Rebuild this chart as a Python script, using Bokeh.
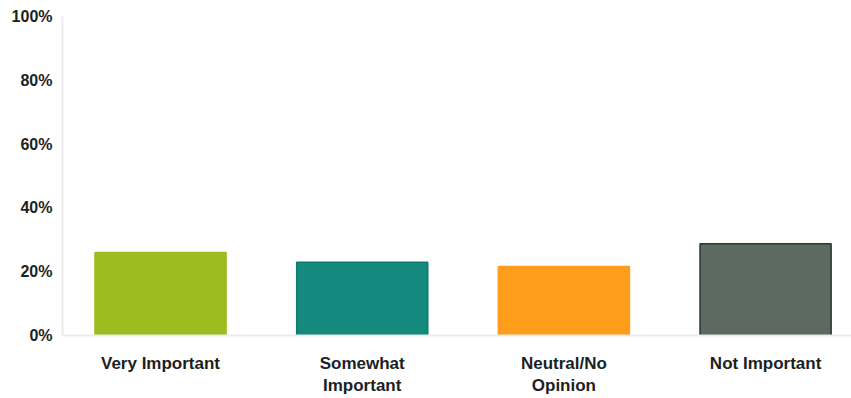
from bokeh.plotting import figure
from bokeh.models import ColumnDataSource, FixedTicker, Range1d
from bokeh.embed import file_html
from bokeh.resources import INLINE

categories = ["Very Important", "Somewhat\nImportant", "Neutral/No\nOpinion", "Not Important"]
values = [26.0, 23.0, 21.6, 28.8]
colors = ["#9cbc1f", "#138a7d", "#ff9d1c", "#5d6a62"]
line_colors = ["#9cbc1f", "#0f7a6e", "#ff9d1c", "#2c3630"]
y_ticks = [0, 20, 40, 60, 80, 100]
y_tick_labels = ["0%", "20%", "40%", "60%", "80%", "100%"]

xs = list(range(len(categories)))
src = ColumnDataSource(dict(x=xs, top=values, color=colors, lc=line_colors))

p = figure(width=851, height=398, output_backend="svg", toolbar_location=None,
           x_range=Range1d(-0.486, 3.426), y_range=Range1d(0, 100),
           min_border_left=62, min_border_right=0, min_border_top=16, min_border_bottom=63)
p.outline_line_color = None
p.xgrid.visible = False
p.ygrid.visible = False

p.vbar(x="x", top="top", width=0.65, bottom=0, source=src,
       fill_color="color", line_color="lc", line_width=1.5)

p.xaxis.ticker = FixedTicker(ticks=xs)
p.xaxis.major_label_overrides = {i: c for i, c in enumerate(categories)}
p.yaxis.ticker = FixedTicker(ticks=y_ticks)
p.yaxis.major_label_overrides = {t: l for t, l in zip(y_ticks, y_tick_labels)}

for ax in (p.xaxis, p.yaxis):
    ax.axis_line_color = "#ececec"
    ax.axis_line_width = 2
    ax.major_tick_line_color = None
    ax.minor_tick_line_color = None
    ax.major_tick_out = 0
    ax.major_tick_in = 0
    ax.major_label_text_font = "Liberation Sans"
    ax.major_label_text_font_style = "bold"
    ax.major_label_text_font_size = "16px"
    ax.major_label_text_color = "#1c1f1e"

p.xaxis.major_label_text_font_size = "17px"
p.xaxis.major_label_standoff = 18
p.yaxis.major_label_standoff = 10

open("out.html", "w").write(file_html(p, INLINE))
